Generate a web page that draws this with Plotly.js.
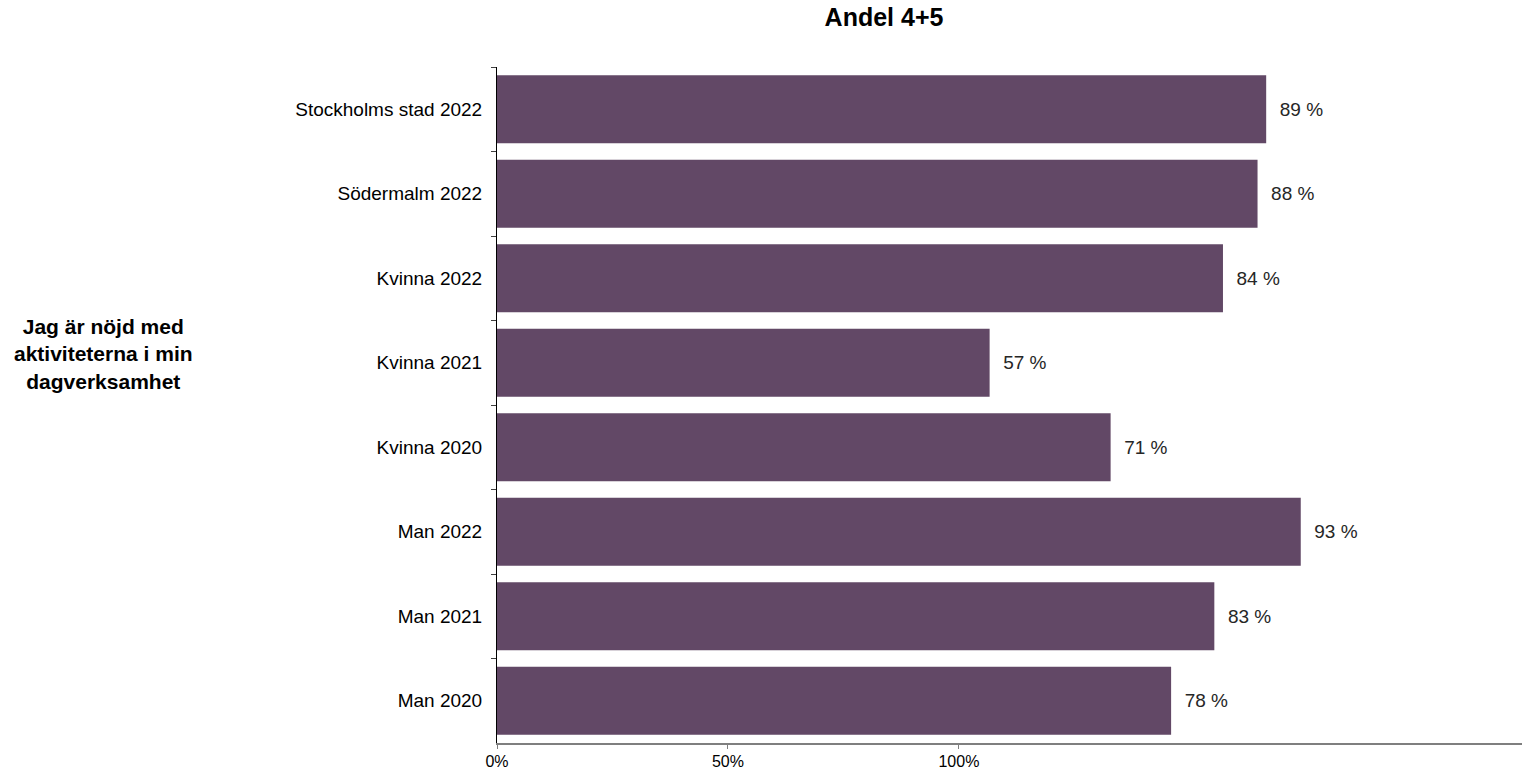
<!DOCTYPE html>
<html>
<head>
<meta charset="utf-8">
<script src="https://cdn.plot.ly/plotly-3.0.1.min.js"></script>
<style>html,body{margin:0;padding:0;background:#fff;}#chart{width:1522px;height:773px;}</style>
</head>
<body>
<div id="chart"></div>
<script>
// Data
const categories = ["Stockholms stad 2022", "Södermalm 2022", "Kvinna 2022", "Kvinna 2021", "Kvinna 2020", "Man 2022", "Man 2021", "Man 2020"];
const values = [89, 88, 84, 57, 71, 93, 83, 78];
const chartTitle = "Andel 4+5";
const questionLabel = "Jag är nöjd med<br>aktiviteterna i min<br>dagverksamhet";
const axisTickValues = [0, 50, 100];
const axisTickText = ["0%", "50%", "100%"];

const FONT = "Liberation Sans, Arial, sans-serif";
const barColor = "#624866";

const traces = [
  {
    type: "bar",
    orientation: "h",
    y: categories,
    x: values,
    marker: { color: barColor },
    texttemplate: "\u00a0\u00a0%{x} %",
    textposition: "outside",
    cliponaxis: false,
    textfont: { family: FONT, size: 19, color: "#262626" },
    hoverinfo: "skip",
    xaxis: "x",
    yaxis: "y"
  },
  {
    type: "scatter",
    mode: "markers",
    x: [axisTickValues[0]],
    y: [categories[0]],
    marker: { opacity: 0 },
    hoverinfo: "skip",
    showlegend: false,
    xaxis: "x2",
    yaxis: "y"
  }
];

const layout = {
  width: 1522,
  height: 773,
  margin: { l: 497, r: 0, t: 67, b: 30, pad: 0 },
  paper_bgcolor: "#ffffff",
  plot_bgcolor: "#ffffff",
  showlegend: false,
  bargap: 0.195,
  font: { family: FONT, size: 19, color: "#000000" },
  title: {
    text: "<b>" + chartTitle + "</b>",
    font: { family: FONT, size: 25, color: "#000000" },
    x: 884 / 1522,
    xanchor: "center",
    xref: "container",
    y: 1 - 17 / 773,
    yanchor: "middle",
    yref: "container"
  },
  xaxis: {
    range: [0, 118.6],
    showticklabels: false,
    showline: false,
    showgrid: false,
    zeroline: false,
    ticks: "",
    fixedrange: true
  },
  xaxis2: {
    overlaying: "x",
    anchor: "y",
    side: "bottom",
    range: [0, 221.9],
    tickvals: axisTickValues,
    ticktext: axisTickText,
    showline: true,
    linecolor: "#7f7f7f",
    linewidth: 2,
    ticks: "outside",
    ticklen: 4,
    tickcolor: "#7f7f7f",
    tickwidth: 1,
    ticklabelstandoff: -1,
    showgrid: false,
    zeroline: false,
    tickfont: { family: FONT, size: 16, color: "#000000" },
    fixedrange: true
  },
  yaxis: {
    type: "category",
    categoryorder: "array",
    categoryarray: categories,
    autorange: "reversed",
    showline: true,
    linecolor: "#000000",
    linewidth: 1,
    ticks: "outside",
    tickson: "boundaries",
    ticklen: 5,
    tickcolor: "#404040",
    ticklabelstandoff: 10,
    showgrid: false,
    zeroline: false,
    tickfont: { family: FONT, size: 19, color: "#000000" },
    fixedrange: true
  },
  annotations: [
    {
      text: "<b>" + questionLabel + "</b>",
      xref: "paper",
      yref: "paper",
      x: (103 - 497) / 1025,
      y: (743 - 354) / 676,
      xanchor: "center",
      yanchor: "middle",
      align: "center",
      showarrow: false,
      font: { family: FONT, size: 21, color: "#000000" }
    }
  ]
};

Plotly.newPlot("chart", traces, layout, { displayModeBar: false, staticPlot: true });
</script>
</body>
</html>
